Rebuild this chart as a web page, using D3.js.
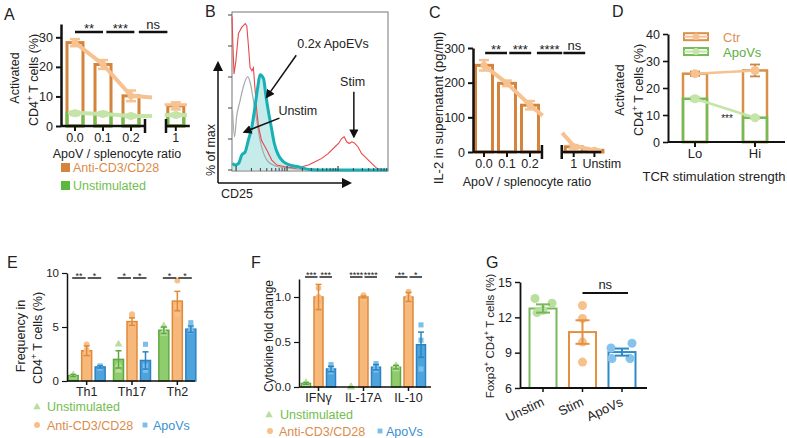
<!DOCTYPE html>
<html><head><meta charset="utf-8">
<script src="https://cdn.jsdelivr.net/npm/d3@7"></script>
<style>body{margin:0;background:#fff}</style>
</head><body>
<script>
const FONT = "Liberation Sans, Arial, sans-serif";

// ---------------- DATA ----------------
// Panel A
const aRatios = ["0.0","0.1","0.2","1"];
const aStim = [28.2, 20.8, 10.2, 6.8];
const aStimErr = [1.2, 1.5, 1.8, 1.2];
const aUnstim = [4.3, 4.1, 3.4, 3.7];
const aUnstimErr = [0.6, 0.6, 0.5, 0.5];
const aYTicks = [0, 10, 20, 30];
const aSigLabels = ["**", "***", "ns"];
// Panel B (x: log decades of CD25, y: % of max)
const bRed = [[-0.08,99],[-0.065,83],[-0.04,62],[-0.005,70],[0.046,88],[0.11,92],[0.18,94.5],[0.21,93],[0.24,81],[0.275,66],[0.31,64],[0.34,66],[0.37,53],[0.405,38.5],[0.44,28],[0.5,19],[0.6,13],[0.7,6.4],[0.8,3.2],[0.96,2.1],[1.16,1.1],[1.29,2.1],[1.42,3.2],[1.55,5.3],[1.68,7.5],[1.81,10.7],[1.94,15],[2.01,17.1],[2.07,20.3],[2.12,21.4],[2.17,18.2],[2.22,17.1],[2.27,18.2],[2.32,17.5],[2.39,15],[2.46,10.7],[2.56,7.5],[2.66,4.3],[2.76,1.1],[2.86,0],[2.97,0]];
const bGray = [[-0.07,38.5],[-0.03,21.4],[0.01,34.2],[0.08,44.9],[0.14,53.4],[0.23,60.3],[0.275,56.6],[0.34,44.9],[0.405,32.1],[0.47,19.2],[0.54,10.7],[0.63,5.3],[0.83,2.1],[1.09,1.1],[1.35,0]];
const bTeal = [[-0.07,4.3],[-0.02,3.2],[0.05,4.3],[0.11,9.6],[0.18,11.8],[0.24,19.2],[0.31,27.8],[0.37,40.6],[0.425,53.4],[0.47,61.5],[0.54,58.8],[0.58,49.2],[0.63,38.5],[0.69,27.8],[0.75,17.1],[0.83,9.6],[0.93,5.3],[1.06,3.2],[1.22,2.1],[1.42,0.4],[1.81,0],[2.97,0]];
const bYTicks = [0, 20, 40, 60, 80, 100];
const bDecades = [0, 1, 2];
// Panel C
const cRatios = ["0.0","0.1","0.2","1","Unstim"];
const cIL2 = [250, 198, 135, 15, 5];
const cIL2Err = [15, 8, 12, 5, 2];
const cYTicks = [0, 100, 200, 300];
const cSigLabels = ["**", "***", "****", "ns"];
// Panel D
const dStrength = ["Lo", "Hi"];
const dCtr = [25.3, 26.5];
const dCtrErr = [0.8, 2.2];
const dApo = [16.0, 9.0];
const dApoErr = [0.8, 0.5];
const dYTicks = [0, 10, 20, 30, 40];
// Panel E
const eCells = ["Th1", "Th17", "Th2"];
const eUnstim = [0.5, 2.0, 4.7], eUnstimErr = [0.1, 0.8, 0.3];
const eStim = [2.8, 5.5, 7.4], eStimErr = [0.45, 0.35, 0.9];
const eApo = [1.3, 1.9, 4.8], eApoErr = [0.1, 0.8, 0.3];
const eUnstimPts = [[0.45, 0.5, 0.55], [1.0, 1.5, 3.4], [4.4, 4.6, 5.1]];
const eStimPts = [[2.5, 2.9, 3.4], [5.2, 6.0, 6.2], [6.2, 6.9, 9.3]];
const eApoPts = [[1.2, 1.3, 1.4], [1.0, 1.4, 3.4], [4.6, 4.8, 5.4]];
const eYTicks = [0, 5, 10];
const eSig = [["**","*"], ["*","*"], ["*","*"]];
// Panel F
const fCyto = ["IFNγ", "IL-17A", "IL-10"];
const fUnstim = [0.04, 0.0, 0.22], fUnstimErr = [0.01, 0, 0.02];
const fStim = [1.0, 1.0, 1.0], fStimErr = [0.14, 0.01, 0.05];
const fApo = [0.2, 0.22, 0.47], fApoErr = [0.03, 0.03, 0.14];
const fUnstimPts = [[0.03, 0.04, 0.05], [0, 0, 0], [0.2, 0.22, 0.24]];
const fStimPts = [[0.9, 1.0, 1.1], [0.99, 1.0, 1.02], [0.95, 1.0, 1.06]];
const fApoPts = [[0.17, 0.21, 0.25], [0.19, 0.22, 0.26], [0.2, 0.52, 0.69]];
const fYTicks = [0, 0.5, 1.0];
const fSig = [["***","***"], ["****","****"], ["**","*"]];
// Panel G
const gGroups = ["Unstim", "Stim", "ApoVs"];
const gMean = [12.75, 10.75, 9.05];
const gErr = [0.35, 1.0, 0.3];
const gPts = [[13.6, 13.2, 12.6, 12.4], [13.0, 11.9, 9.9, 8.2], [9.4, 9.8, 8.5, 8.5]];
const gYTicks = [6, 9, 12, 15];

// ---------------- COLORS ----------------
const COL = {
  orD: "#d4843c", orL: "#f6c291", grD: "#73bb50", grL: "#c4e5a7",
  eGrF: "#8fcc6e", eGrS: "#5fa944", eOrF: "#f7b87c", eOrS: "#df8a3a",
  eBlF: "#4fa3dc", eBlS: "#2a84c4", eGrP: "#b7de9b", eOrP: "#f9bf88", eBlP: "#7cbfea",
  txOr: "#d98c4b", txGr: "#72be4e", txBl: "#3a8fd1", ink: "#1a1a1a"
};

const svg = d3.select("body").append("svg").attr("width", 787).attr("height", 438)
  .style("font-family", FONT);
const defs = svg.append("defs");
function marker(id, w) {
  defs.append("marker").attr("id", id).attr("viewBox", "0 0 10 10").attr("refX", 8).attr("refY", 5)
    .attr("markerWidth", w).attr("markerHeight", w).attr("orient", "auto")
    .append("path").attr("d", "M0,0L10,5L0,10z").attr("fill", "#111");
}
marker("ah", 6); marker("ah2", 7);

function txt(x, y, s, o = {}) {
  const t = svg.append("text").attr("x", x).attr("y", y).text(s)
    .attr("font-size", o.size || 12).attr("fill", o.fill || "#222")
    .attr("text-anchor", o.anchor || "start");
  if (o.rotate != null) t.attr("transform", `rotate(${o.rotate},${x},${y})`);
  return t;
}
function ln(x1, y1, x2, y2, stroke, sw) {
  return svg.append("line").attr("x1", x1).attr("y1", y1).attr("x2", x2).attr("y2", y2)
    .attr("stroke", stroke).attr("stroke-width", sw);
}
function rich(x, y, segs, size, o = {}) {
  const t = svg.append("text").attr("x", x).attr("y", y).attr("font-size", size)
    .attr("fill", o.fill || "#222").attr("text-anchor", o.anchor || "middle");
  if (o.rotate) t.attr("transform", `rotate(${o.rotate},${x},${y})`);
  let up = false;
  segs.forEach(s => {
    const sup = s.startsWith("^");
    const ts = t.append("tspan").text(sup ? s.slice(1) : s);
    if (sup) { ts.attr("font-size", size * 0.7); if (!up) { ts.attr("dy", -size * 0.4); up = true; } }
    else if (up) { ts.attr("dy", size * 0.4); up = false; }
  });
  return t;
}
function yAxis(scale, x, ticks, fmt, size, sw) {
  const g = svg.append("g").attr("transform", `translate(${x},0)`)
    .call(d3.axisLeft(scale).tickValues(ticks).tickFormat(fmt).tickSize(5).tickSizeOuter(0).tickPadding(3));
  g.select(".domain").attr("stroke", "#111").attr("stroke-width", sw);
  g.selectAll(".tick line").attr("stroke", "#111").attr("stroke-width", Math.max(1.2, sw * 0.8));
  g.selectAll(".tick text").attr("font-size", size).attr("font-family", FONT).attr("fill", "#222");
  return g;
}
function errBar(x, y0, y1, cap, stroke, sw) {
  ln(x, y0, x, y1, stroke, sw);
  ln(x - cap / 2, y0, x + cap / 2, y0, stroke, sw);
  ln(x - cap / 2, y1, x + cap / 2, y1, stroke, sw);
}
function sym(type, x, y, s, fill) {
  const p = d3.symbol().type(type).size(s)();
  svg.append("path").attr("d", p).attr("transform", `translate(${x},${y})`).attr("fill", fill);
}

// panel letters
[["A", 4, 20], ["B", 205, 17], ["C", 429, 18], ["D", 612, 17], ["E", 7, 268], ["F", 251, 268], ["G", 486, 268]]
  .forEach(([l, x, y]) => txt(x, y, l, { size: 16, fill: "#222" }));

// ================= PANEL A =================
{
  const xi = d3.scaleLinear().domain([0, 1]).range([75, 103]);
  const pos = [0, 1, 2, 3.6];
  const y = d3.scaleLinear().domain([0, 34.5]).range([126, 24]);
  const bw = 16;
  aStim.forEach((v, i) => svg.append("rect").attr("x", xi(pos[i]) - bw / 2).attr("y", y(v))
    .attr("width", bw).attr("height", y(0) - y(v)).attr("fill", "#fff").attr("stroke", COL.orD).attr("stroke-width", 3));
  aUnstim.forEach((v, i) => svg.append("rect").attr("x", xi(pos[i]) - bw / 2).attr("y", y(v))
    .attr("width", bw).attr("height", y(0) - y(v)).attr("fill", "none").attr("stroke", COL.grD).attr("stroke-width", 3));
  const lg = d3.line().x(d => xi(d[0])).y(d => y(d[1]));
  const stimFit = [[0, aStim[0]], [1, aStim[1]], [2, aStim[2]], [2.75, aStim[2] - 0.6]];
  const unFit = [[-0.25, aUnstim[0] + 0.3], [1, aUnstim[1]], [2, aUnstim[2]], [2.75, aUnstim[2]]];
  svg.append("path").attr("d", lg(stimFit)).attr("fill", "none").attr("stroke", COL.orL).attr("stroke-width", 4);
  svg.append("path").attr("d", lg(unFit)).attr("fill", "none").attr("stroke", COL.grL).attr("stroke-width", 4);
  svg.append("path").attr("d", lg([[3.2, aStim[3] + 0.4], [4.0, aStim[3] + 0.4]])).attr("stroke", COL.orL).attr("stroke-width", 3);
  svg.append("path").attr("d", lg([[3.2, aUnstim[3]], [4.0, aUnstim[3]]])).attr("stroke", COL.grL).attr("stroke-width", 4);
  aStim.forEach((v, i) => { errBar(xi(pos[i]), y(v - aStimErr[i]), y(v + aStimErr[i]), 10, COL.orL, 2.5);
    svg.append("circle").attr("cx", xi(pos[i])).attr("cy", y(v)).attr("r", 3.5).attr("fill", COL.orL); });
  aUnstim.forEach((v, i) => { errBar(xi(pos[i]), y(v - aUnstimErr[i]), y(v + aUnstimErr[i]), 10, COL.grL, 2.5);
    svg.append("circle").attr("cx", xi(pos[i])).attr("cy", y(v)).attr("r", 4).attr("fill", COL.grL); });
  yAxis(y, 61, aYTicks, d3.format("d"), 12.5, 2.5);
  ln(xi(-0.5), y(0), xi(2.5), y(0), "#111", 2.5);
  ln(xi(3.25), y(0), xi(4.1), y(0), "#111", 2.5);
  [2.5, 3.25].forEach(i => ln(xi(i), y(0) - 7, xi(i), y(0) + 7, "#111", 2.5));
  pos.forEach((p, i) => { ln(xi(p), y(0), xi(p), y(0) + 5, "#111", 2);
    txt(xi(p), y(0) + 16, aRatios[i], { size: 12.5, anchor: "middle" }); });
  txt(117, 158, "ApoV / splenocyte ratio", { size: 12.5, anchor: "middle" });
  const sigSpans = [[0, 1], [1.12, 2.12], [2.28, 3.3]];
  sigSpans.forEach(([a, b], k) => {
    ln(xi(a), 32, xi(b), 32, "#111", 2.5);
    const lab = aSigLabels[k];
    txt((xi(a) + xi(b)) / 2, lab === "ns" ? 29 : 33, lab, { size: 13, anchor: "middle" });
  });
  rich(19, 78, ["Activated"], 12.5, { rotate: -90 });
  rich(38, 80, ["CD4", "^+", " T cells (%)"], 12.5, { rotate: -90 });
  svg.append("rect").attr("x", 61).attr("y", 163).attr("width", 9).attr("height", 9).attr("fill", COL.orD);
  txt(73, 172, "Anti-CD3/CD28", { size: 12.5, fill: COL.txOr });
  svg.append("rect").attr("x", 61).attr("y", 181).attr("width", 9).attr("height", 9).attr("fill", "#5cb83c");
  txt(73, 190, "Unstimulated", { size: 12.5, fill: COL.txGr });
}

// ================= PANEL B =================
{
  const x = d3.scaleLinear().domain([-0.08, 2.98]).range([232, 388]);
  const y = d3.scaleLinear().domain([0, 100]).range([170, 15]);
  svg.append("rect").attr("x", 232).attr("y", 12).attr("width", 156).attr("height", 159)
    .attr("fill", "none").attr("stroke", "#777").attr("stroke-width", 1);
  const area = d3.area().x(d => x(d[0])).y0(y(0)).y1(d => y(d[1])).curve(d3.curveMonotoneX);
  const line = d3.line().x(d => x(d[0])).y(d => y(d[1]));
  svg.append("path").attr("d", area(bTeal)).attr("fill", "#9fdede").attr("opacity", 0.6);
  svg.append("path").attr("d", line.curve(d3.curveMonotoneX)(bGray)).attr("fill", "none").attr("stroke", "#a8a8a8").attr("stroke-width", 1.2);
  svg.append("path").attr("d", line.curve(d3.curveLinear)(bRed)).attr("fill", "none").attr("stroke", "#e8474c").attr("stroke-width", 1.1);
  svg.append("path").attr("d", line.curve(d3.curveMonotoneX)(bTeal)).attr("fill", "none").attr("stroke", "#18b0b4").attr("stroke-width", 3);
  bYTicks.forEach(t => ln(228, y(t), 232, y(t), "#444", 1));
  bDecades.forEach(d => {
    ln(x(d), 171, x(d), 166, "#444", 1.2);
    d3.range(2, 10).forEach(k => { const v = d + Math.log10(k); if (v < 2.98) ln(x(v), 171, x(v), 168, "#444", 1); });
  });
  svg.append("line").attr("x1", 218).attr("y1", 183).attr("x2", 218).attr("y2", 63).attr("stroke", "#111").attr("stroke-width", 1.5).attr("marker-end", "url(#ah2)");
  svg.append("line").attr("x1", 218).attr("y1", 183).attr("x2", 350).attr("y2", 183).attr("stroke", "#111").attr("stroke-width", 1.5).attr("marker-end", "url(#ah2)");
  rich(215, 150, ["% of max"], 12.5, { rotate: -90 });
  txt(221, 198, "CD25", { size: 12.5 });
  const arr = (x1, y1, x2, y2) => svg.append("line").attr("x1", x(x1)).attr("y1", y(y1)).attr("x2", x(x2)).attr("y2", y(y2))
    .attr("stroke", "#111").attr("stroke-width", 1.5).attr("marker-end", "url(#ah)");
  arr(1.18, 74, 0.6, 47);
  arr(0.85, 33.5, 0.16, 24.5);
  arr(2.31, 50.5, 2.31, 21.5);
  txt(x(1.2), y(78.7), "0.2x ApoEVs", { size: 12.5 });
  txt(x(0.83), y(35.5), "Unstim", { size: 12.5 });
  txt(x(2.04), y(54.5), "Stim", { size: 12.5 });
}

// ================= PANEL C =================
{
  const xi = d3.scaleLinear().domain([0, 1]).range([484, 507]);
  const pos = [0, 1, 2, 3.9, 4.8];
  const y = d3.scaleLinear().domain([0, 300]).range([152, 48]);
  const bw = 17;
  const lg = d3.line().x(d => xi(d[0])).y(d => y(d[1]));
  cIL2.forEach((v, i) => svg.append("rect").attr("x", xi(pos[i]) - bw / 2).attr("y", y(v))
    .attr("width", bw).attr("height", y(0) - y(v)).attr("fill", "#fff").attr("stroke", COL.orD).attr("stroke-width", 3));
  svg.append("path").attr("d", lg([[0, cIL2[0]], [1, cIL2[1]], [2, cIL2[2]], [2.55, 105]])).attr("fill", "none").attr("stroke", COL.orL).attr("stroke-width", 4);
  svg.append("path").attr("d", lg([[3.4, 55], [pos[3], cIL2[3] + 3], [pos[4], cIL2[4]], [5.1, 3]])).attr("fill", "none").attr("stroke", COL.orL).attr("stroke-width", 4);
  cIL2.forEach((v, i) => { errBar(xi(pos[i]), y(v - cIL2Err[i]), y(v + cIL2Err[i]), 10, COL.orL, 2.5);
    svg.append("circle").attr("cx", xi(pos[i])).attr("cy", y(v)).attr("r", 3.5).attr("fill", COL.orL); });
  yAxis(y, 473, cYTicks, d3.format("d"), 12.5, 2.5);
  ln(xi(-0.48), y(0), xi(2.52), y(0), "#111", 2.5);
  ln(xi(3.38), y(0), xi(5.1), y(0), "#111", 2.5);
  [2.52, 3.38].forEach(i => ln(xi(i), y(0) - 7, xi(i), y(0) + 7, "#111", 2.5));
  pos.forEach((p, i) => {
    ln(xi(p), y(0), xi(p), y(0) + 5, "#111", 2);
    if (i < 4) txt(xi(p), y(0) + 16, cRatios[i], { size: 12.5, anchor: "middle" });
    else txt(xi(p) - 12, y(0) + 16, cRatios[i], { size: 12.5 });
  });
  txt(527, 186, "ApoV / splenocyte ratio", { size: 12.5, anchor: "middle" });
  const sigSpans = [[0.05, 1], [1.1, 2.05], [2.3, 3.4], [3.45, 4.4]];
  sigSpans.forEach(([a, b], k) => {
    ln(xi(a), 53, xi(b), 53, "#111", 2.5);
    const lab = cSigLabels[k];
    txt((xi(a) + xi(b)) / 2, lab === "ns" ? 50 : 54, lab, { size: 13, anchor: "middle" });
  });
  rich(442.5, 108, ["IL-2 in supernatant (pg/ml)"], 13, { rotate: -90 });
}

// ================= PANEL D =================
{
  const x = d3.scalePoint().domain(dStrength).range([695, 755]);
  const y = d3.scaleLinear().domain([0, 40]).range([142, 34]);
  const bw = 24;
  dStrength.forEach((s, i) => {
    svg.append("rect").attr("x", x(s) - bw / 2).attr("y", y(dCtr[i])).attr("width", bw).attr("height", y(0) - y(dCtr[i]))
      .attr("fill", "#fff").attr("stroke", "#d98f48").attr("stroke-width", 2.5);
    svg.append("rect").attr("x", x(s) - bw / 2).attr("y", y(dApo[i])).attr("width", bw).attr("height", y(0) - y(dApo[i]))
      .attr("fill", "none").attr("stroke", "#74ba55").attr("stroke-width", 2.5);
  });
  const lg = d3.line().x((d, i) => x(dStrength[i])).y(d => y(d));
  svg.append("path").attr("d", lg(dCtr)).attr("fill", "none").attr("stroke", COL.orL).attr("stroke-width", 2.5);
  svg.append("path").attr("d", lg(dApo)).attr("fill", "none").attr("stroke", COL.grL).attr("stroke-width", 2.5);
  dStrength.forEach((s, i) => {
    errBar(x(s), y(dCtr[i] - dCtrErr[i]), y(dCtr[i] + dCtrErr[i]), 10, "#c9864a", 1.8);
    errBar(x(s), y(dApo[i] - dApoErr[i]), y(dApo[i] + dApoErr[i]), 10, COL.grL, 1.8);
    svg.append("circle").attr("cx", x(s)).attr("cy", y(dCtr[i])).attr("r", 4.5).attr("fill", COL.orL);
    svg.append("circle").attr("cx", x(s)).attr("cy", y(dApo[i])).attr("r", 4.5).attr("fill", COL.grL);
  });
  yAxis(y, 668, dYTicks, d3.format("d"), 12.5, 2);
  ln(668, y(0), 785, y(0), "#111", 2);
  dStrength.forEach(s => { ln(x(s), y(0), x(s), y(0) + 5, "#111", 2); txt(x(s), y(0) + 16, s, { size: 13, anchor: "middle" }); });
  txt(714, 181, "TCR stimulation strength", { size: 13, anchor: "middle" });
  txt(727, 122, "***", { size: 10, anchor: "middle" });
  rich(624, 90, ["Activated"], 12.5, { rotate: -90 });
  rich(643, 90, ["CD4", "^+", " T cells (%)"], 12.5, { rotate: -90 });
  [[y(39), "#d98f48", COL.orL, "Ctr", "#de9150"], [y(33.5), "#74ba55", COL.grL, "ApoVs", "#5eae44"]].forEach(([yy, sc, lc, lab, tc]) => {
    svg.append("rect").attr("x", 684).attr("y", yy - 3.5).attr("width", 24).attr("height", 7).attr("fill", "#fff").attr("stroke", sc).attr("stroke-width", 2);
    ln(684, yy, 708, yy, lc, 2);
    svg.append("circle").attr("cx", 696).attr("cy", yy).attr("r", 3.5).attr("fill", lc);
    txt(723, yy + 5, lab, { size: 13, fill: tc });
  });
}

// ------------- grouped bar helper (E, F) -------------
function groupedPanel(cfg) {
  const gx = d3.scaleBand().domain(cfg.cats).range(cfg.range);
  const sx = d3.scaleBand().domain(["U", "S", "A"]).range([0, gx.bandwidth()]).paddingInner(cfg.pi).paddingOuter(cfg.po);
  const y = cfg.y;
  const series = [
    { k: "U", v: cfg.u, e: cfg.ue, p: cfg.up, f: COL.eGrF, s: COL.eGrS, pc: COL.eGrP, sym: d3.symbolTriangle },
    { k: "S", v: cfg.s, e: cfg.se, p: cfg.sp, f: COL.eOrF, s: COL.eOrS, pc: COL.eOrP, sym: d3.symbolCircle },
    { k: "A", v: cfg.a, e: cfg.ae, p: cfg.ap, f: COL.eBlF, s: COL.eBlS, pc: COL.eBlP, sym: d3.symbolSquare }];
  const cx = (c, k) => gx(c) + sx(k) + sx.bandwidth() / 2;
  series.forEach(se => cfg.cats.forEach((c, i) => {
    svg.append("rect").attr("x", gx(c) + sx(se.k)).attr("y", y(se.v[i])).attr("width", sx.bandwidth())
      .attr("height", y(0) - y(se.v[i])).attr("fill", se.f).attr("stroke", se.s).attr("stroke-width", 1.5);
  }));
  series.forEach(se => cfg.cats.forEach((c, i) => {
    se.p[i].forEach(pv => sym(se.sym, cx(c, se.k), y(pv), 26, se.pc));
    errBar(cx(c, se.k), y(se.v[i] - se.e[i]), y(se.v[i] + se.e[i]), 6, se.s, 1.5);
  }));
  yAxis(y, cfg.axisX, cfg.ticks, cfg.fmt, 11.5, 1.5);
  ln(cfg.axisX, y(0), cfg.axisEnd, y(0), "#111", 1.5);
  cfg.cats.forEach((c, i) => {
    ln(cx(c, "S"), y(0), cx(c, "S"), y(0) + 4, "#111", 1.5);
    txt(cx(c, "S"), y(0) + 15, c, { size: 12.5, anchor: "middle" });
    const [s1, s2] = cfg.sig[i];
    ln(cx(c, "U") - 1, cfg.sigY, cx(c, "S") - 1, cfg.sigY, "#222", 1.5);
    ln(cx(c, "S") + 1, cfg.sigY, cx(c, "A") + 1, cfg.sigY, "#222", 1.5);
    txt((cx(c, "U") + cx(c, "S")) / 2 - 1, cfg.sigY + 0.5, s1, { size: 9, anchor: "middle" });
    txt((cx(c, "S") + cx(c, "A")) / 2 + 1, cfg.sigY + 0.5, s2, { size: 9, anchor: "middle" });
  });
}

// ================= PANEL E =================
groupedPanel({
  cats: eCells, range: [64, 200], pi: 0.26, po: 0.31,
  y: d3.scaleLinear().domain([0, 10]).range([381, 273]),
  u: eUnstim, ue: eUnstimErr, up: eUnstimPts, s: eStim, se: eStimErr, sp: eStimPts, a: eApo, ae: eApoErr, ap: eApoPts,
  axisX: 67, axisEnd: 195, ticks: eYTicks, fmt: d3.format("d"), sig: eSig, sigY: 278
});
rich(25, 336, ["Frequency in"], 12.5, { rotate: -90 });
rich(42, 338, ["CD4", "^+", " T cells (%)"], 12.5, { rotate: -90 });
sym(d3.symbolTriangle, 37, 407, 24, COL.eGrP);
txt(47, 411, "Unstimulated", { size: 12.5, fill: COL.txGr });
sym(d3.symbolCircle, 37, 425, 28, COL.eOrP);
txt(47, 430, "Anti-CD3/CD28", { size: 12.5, fill: COL.txOr });
sym(d3.symbolSquare, 145, 425, 24, COL.eBlP);
txt(153, 430, "ApoVs", { size: 12.5, fill: COL.txBl });

// ================= PANEL F =================
groupedPanel({
  cats: fCyto, range: [296, 431], pi: 0.28, po: 0.44,
  y: d3.scaleLinear().domain([0, 1.2]).range([387, 279]),
  u: fUnstim, ue: fUnstimErr, up: fUnstimPts, s: fStim, se: fStimErr, sp: fStimPts, a: fApo, ae: fApoErr, ap: fApoPts,
  axisX: 299, axisEnd: 431, ticks: fYTicks, fmt: d3.format(".1f"), sig: fSig, sigY: 277
});
rich(273, 336, ["Cytokine fold change"], 12, { rotate: -90 });
sym(d3.symbolTriangle, 269, 415, 24, COL.eGrP);
txt(280, 419, "Unstimulated", { size: 12.5, fill: COL.txGr });
sym(d3.symbolCircle, 270, 431, 28, COL.eOrP);
txt(279, 436, "Anti-CD3/CD28", { size: 12.5, fill: COL.txOr });
sym(d3.symbolSquare, 380, 431, 24, COL.eBlP);
txt(386, 436, "ApoVs", { size: 12.5, fill: COL.txBl });

// ================= PANEL G =================
{
  const x = d3.scalePoint().domain(gGroups).range([543, 622]);
  const y = d3.scaleLinear().domain([6, 15]).range([388, 282]);
  const bw = 27;
  const strokes = ["#78b85a", "#e39140", "#2f8ac8"];
  const pcols = ["#b9df9c", "#f8c08a", "#86c3ec"];
  const jit = [[-8, 9, 0, -6], [0, 0, 0, 0], [-11, 10, -10, 8]];
  gGroups.forEach((g, i) => {
    svg.append("rect").attr("x", x(g) - bw / 2).attr("y", y(gMean[i])).attr("width", bw).attr("height", y(6) - y(gMean[i]))
      .attr("fill", "#fff").attr("stroke", strokes[i]).attr("stroke-width", 2);
    gPts[i].forEach((p, j) => svg.append("circle").attr("cx", x(g) + jit[i][j]).attr("cy", y(p)).attr("r", 4.5).attr("fill", pcols[i]));
    errBar(x(g), y(gMean[i] - gErr[i]), y(gMean[i] + gErr[i]), 14, strokes[i], 2);
  });
  yAxis(y, 520, gYTicks, d3.format("d"), 12.5, 1.8);
  ln(520, y(6), 647, y(6), "#111", 1.8);
  gGroups.forEach(g => {
    ln(x(g), y(6), x(g), y(6) + 4, "#111", 1.5);
    txt(x(g) + 2, 405, g, { size: 13, anchor: "end", rotate: -25 });
  });
  ln(x("Stim"), 293, x("ApoVs") + 6, 293, "#111", 2);
  txt((x("Stim") + x("ApoVs")) / 2 + 3, 289, "ns", { size: 13, anchor: "middle" });
  rich(494, 336, ["Foxp3", "^+", " CD4", "^+", " T cells (%)"], 11.5, { rotate: -90 });
}
</script>
</body></html>
